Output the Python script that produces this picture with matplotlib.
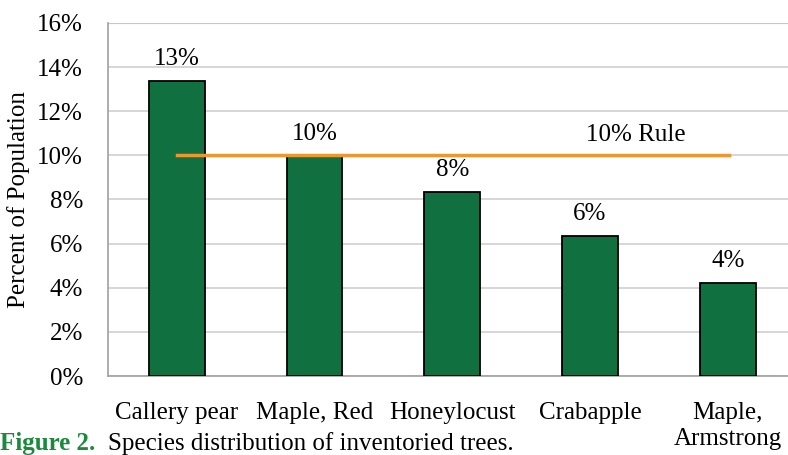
import numpy as np
import matplotlib.pyplot as plt
from matplotlib.ticker import FuncFormatter

# Species share of the inventoried trees (percent)
species = ['Callery pear', 'Maple, Red', 'Honeylocust', 'Crabapple', 'Maple,\nArmstrong']
percent = [13.35, 9.95, 8.35, 6.35, 4.2]
labels = ['13%', '10%', '8%', '6%', '4%']
rule = 10  # 10% rule line

plt.rcParams['font.family'] = ['Liberation Serif', 'DejaVu Serif']
fs = 18

fig = plt.figure(figsize=(7.88, 4.55), dpi=100)
ax = fig.add_axes([0.137, 0.1736, 0.874, 0.776])

x = np.arange(len(species))
ax.bar(x, percent, width=0.405, color='#117040', edgecolor='black', linewidth=1.3, zorder=3)

for xi, v, lab in zip(x, percent, labels):
    ax.annotate(lab, (xi, v), xytext=(0, 8), textcoords='offset points',
                ha='center', va='bottom', fontsize=fs)

# 10% rule line, drawn from first to last bar centre
ax.plot([x[0], x[-1] + 0.01], [rule, rule], color='#F0962E', linewidth=2.5, zorder=4)
ax.text(3.33, rule + 0.9, '10% Rule', ha='center', va='center', fontsize=fs)

ax.set_xlim(-0.5, len(species) - 0.5)
ax.set_ylim(0, 16)
ax.set_yticks(np.arange(0, 17, 2))
ax.yaxis.set_major_formatter(FuncFormatter(lambda v, p: f'{v:.0f}%'))
ax.set_xticks(x)
ax.set_xticklabels(species, fontsize=fs, linespacing=1.2)
ax.tick_params(axis='y', labelsize=fs, length=0, pad=18)
ax.tick_params(axis='x', length=0, pad=19)
ax.grid(axis='y', color='#d0d0d0', linewidth=1.2, zorder=0)
ax.set_ylabel('Percent of Population', fontsize=fs, labelpad=5)

for s in ['top', 'right']:
    ax.spines[s].set_visible(False)
ax.spines['left'].set_color('#a0a0a0')
ax.spines['bottom'].set_color('#a0a0a0')
ax.spines['left'].set_linewidth(1.2)
ax.spines['bottom'].set_linewidth(1.2)
ax.axhline(16, color='#a0a0a0', linewidth=1.5, zorder=1)

cap = fig.text(0.0, 0.0, 'Figure 2.', color='#1a8a3c', fontweight='bold', fontsize=fs,
               ha='left', va='bottom')
fig.canvas.draw()
bb = cap.get_window_extent().transformed(fig.transFigure.inverted())
fig.text(bb.x1 + 0.016, 0.0, 'Species distribution of inventoried trees.', fontsize=fs,
         ha='left', va='bottom')

fig.savefig('out.png', dpi=100)
